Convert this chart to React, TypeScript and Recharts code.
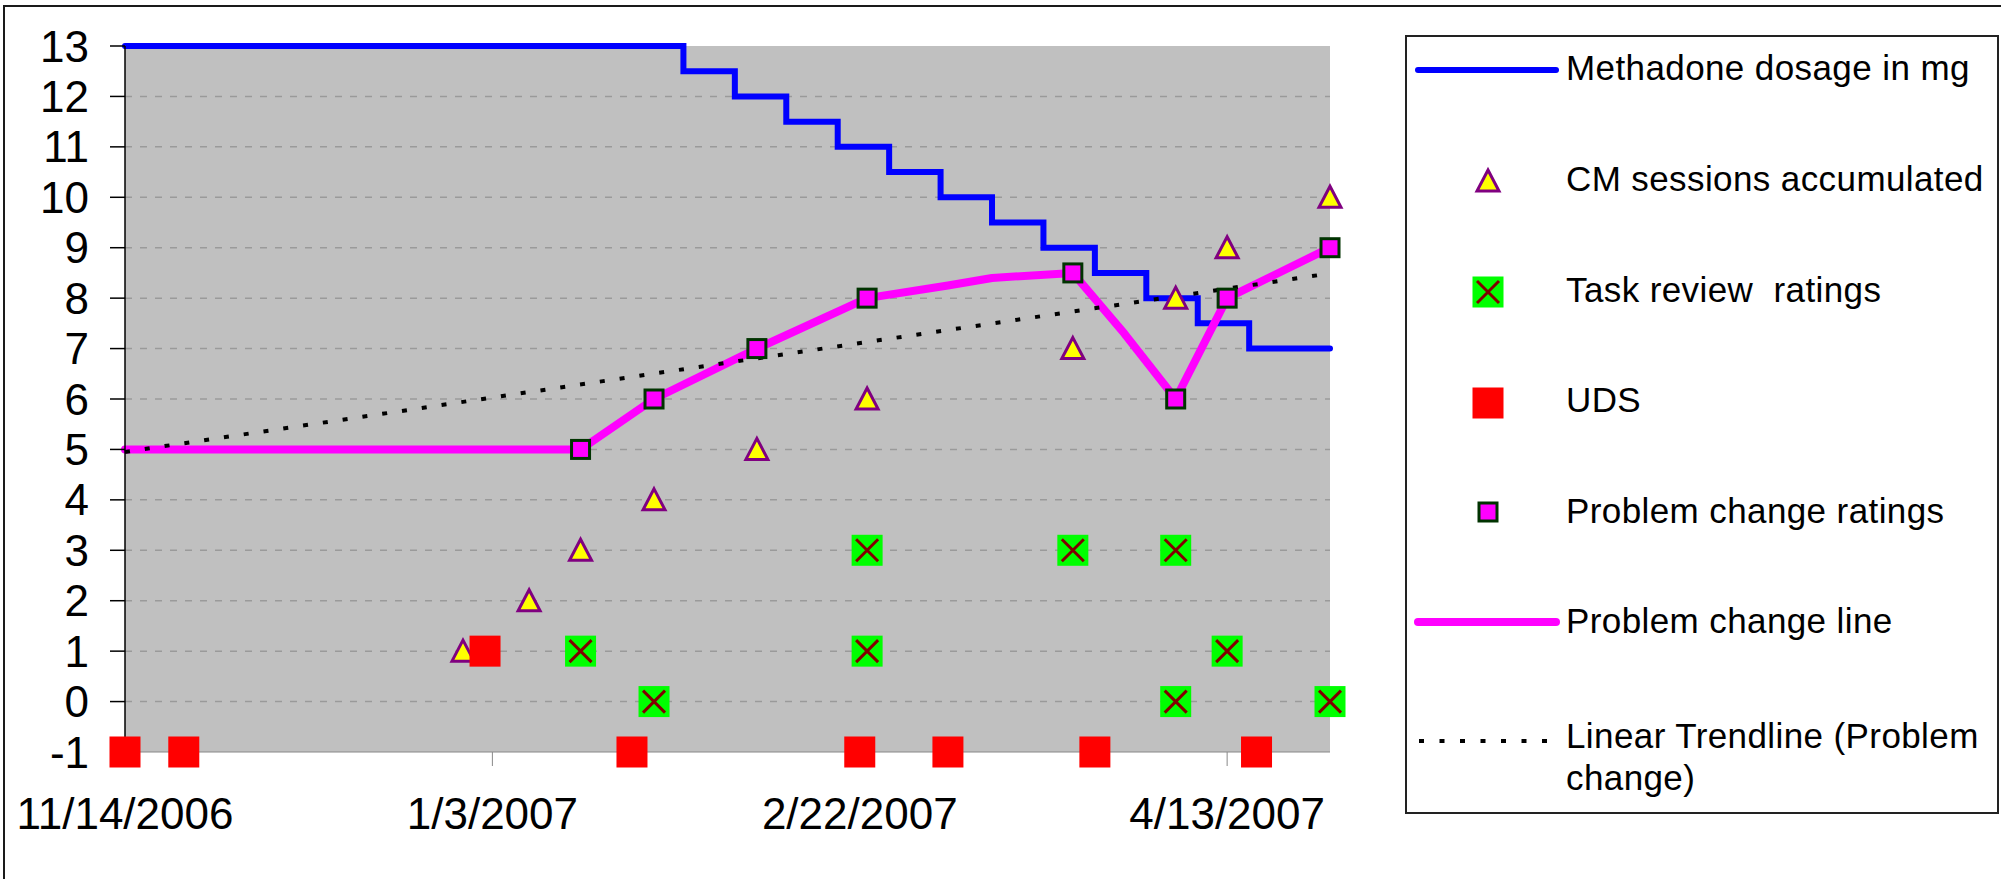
import React from 'react';
import { ComposedChart, Line, Scatter, XAxis, YAxis, CartesianGrid } from 'recharts';

// day 0 of the date axis
const START = Date.UTC(2006, 10, 14);

const toDay = (s: string) => {
  const [m, d, y] = s.split('/').map(Number);
  return Math.round((Date.UTC(y, m - 1, d) - START) / 86400000);
};
const fromDay = (n: number) => {
  const dt = new Date(START + n * 86400000);
  return `${dt.getUTCMonth() + 1}/${dt.getUTCDate()}/${dt.getUTCFullYear()}`;
};

const methadoneDates = ['11/14/2006', '1/29/2007', '2/5/2007', '2/12/2007', '2/19/2007', '2/26/2007', '3/5/2007', '3/12/2007', '3/19/2007', '3/26/2007', '4/2/2007', '4/9/2007', '4/16/2007', '4/27/2007'];
const methadoneMg = [13, 12.5, 12, 11.5, 11, 10.5, 10, 9.5, 9, 8.5, 8, 7.5, 7, 7];

const cmDates = ['12/30/2006', '1/8/2007', '1/15/2007', '1/25/2007', '2/8/2007', '2/23/2007', '3/23/2007', '4/6/2007', '4/13/2007', '4/27/2007'];
const cmSessions = [1, 2, 3, 4, 5, 6, 7, 8, 9, 10];

const taskDates = ['1/15/2007', '1/25/2007', '2/23/2007', '2/23/2007', '3/23/2007', '4/6/2007', '4/6/2007', '4/13/2007', '4/27/2007'];
const taskRatings = [1, 0, 3, 1, 3, 3, 0, 1, 0];

const udsDates = ['11/14/2006', '11/22/2006', '1/2/2007', '1/22/2007', '2/22/2007', '3/6/2007', '3/26/2007', '4/17/2007'];
const udsValues = [-1, -1, 1, -1, -1, -1, -1, -1];

const problemDates = ['1/15/2007', '1/25/2007', '2/8/2007', '2/23/2007', '3/23/2007', '4/6/2007', '4/13/2007', '4/27/2007'];
const problemRatings = [5, 6, 7, 8, 8.5, 6, 8, 9];

const problemLineDates = ['11/14/2006', '1/15/2007', '1/25/2007', '2/8/2007', '2/23/2007', '3/6/2007', '3/12/2007', '3/23/2007', '3/30/2007', '4/6/2007', '4/13/2007', '4/27/2007'];
const problemLineValues = [5, 5, 6, 7, 8, 8.25, 8.4, 8.5, 7.3, 6, 8, 9];

const trendDates = ['11/14/2006', '4/27/2007'];
const trendValues = [4.95, 8.49];

const xTickDates = ['11/14/2006', '1/3/2007', '2/22/2007', '4/13/2007'];
const yTicks = [-1, 0, 1, 2, 3, 4, 5, 6, 7, 8, 9, 10, 11, 12, 13];

const legendLabels = [
  'Methadone dosage in mg',
  'CM sessions accumulated',
  'Task review  ratings',
  'UDS',
  'Problem change ratings',
  'Problem change line',
  'Linear Trendline (Problem change)',
];

const toPoints = (dates: string[], values: number[]) =>
  dates.map((d, i) => ({ day: toDay(d), value: values[i] }));

const FONT = '"Liberation Sans", Arial, sans-serif';

const Triangle = ({ cx, cy }: any) => (
  <polygon
    points={`${cx},${cy - 11} ${cx + 11},${cy + 10} ${cx - 11},${cy + 10}`}
    fill="#FFFF00"
    stroke="#800080"
    strokeWidth={3}
    strokeLinejoin="miter"
  />
);

const CrossBox = ({ cx, cy }: any) => (
  <g>
    <rect x={cx - 15.5} y={cy - 15.5} width={31} height={31} fill="#00FF00" />
    <path d={`M${cx - 11},${cy - 11}L${cx + 11},${cy + 11}M${cx + 11},${cy - 11}L${cx - 11},${cy + 11}`} stroke="#800000" strokeWidth={3} />
  </g>
);

const RedBox = ({ cx, cy }: any) => (
  <rect x={cx - 15.5} y={cy - 15.5} width={31} height={31} fill="#FF0000" />
);

const PinkBox = ({ cx, cy }: any) => (
  <rect x={cx - 9} y={cy - 9} width={18} height={18} fill="#FF00FF" stroke="#003300" strokeWidth={3} />
);

const legendIcon = (i: number) => {
  switch (i) {
    case 0:
      return <line x1={12} y1={20} x2={150} y2={20} stroke="#0000FF" strokeWidth={6} strokeLinecap="round" />;
    case 1:
      return <Triangle cx={82} cy={20} />;
    case 2:
      return <CrossBox cx={82} cy={20} />;
    case 3:
      return <RedBox cx={82} cy={20} />;
    case 4:
      return <PinkBox cx={82} cy={20} />;
    case 5:
      return <line x1={12} y1={20} x2={150} y2={20} stroke="#FF00FF" strokeWidth={8} strokeLinecap="round" />;
    default:
      return <line x1={13} y1={20} x2={150} y2={20} stroke="#000" strokeWidth={4} strokeDasharray="5 15.5" />;
  }
};

const rowText = [68, 179, 290, 400, 511, 621, 736];
const rowIcon = [70, 181, 292, 403, 512, 622, 741];

export default function App() {
  return (
    <div style={{ position: 'absolute', left: 0, top: 0, width: 2001, height: 879, overflow: 'hidden', background: '#fff', fontFamily: FONT }}>
      <div style={{ position: 'absolute', left: 3, top: 5, width: 2100, height: 1000, border: '2px solid #1a1a1a' }} />
      <div style={{ position: 'absolute', left: 0, top: 0 }}>
        <ComposedChart width={2001} height={879} margin={{ top: 46, right: 671, bottom: 0, left: 0 }}>
          <CartesianGrid
            fill="#C0C0C0"
            vertical={false}
            horizontalValues={yTicks.slice(1, -1)}
            stroke="#9a9a9a"
            strokeWidth={1.5}
            strokeDasharray="7 8"
          />
          <XAxis
            dataKey="day"
            type="number"
            domain={[0, 164]}
            ticks={xTickDates.map(toDay)}
            tickFormatter={fromDay}
            interval={0}
            height={127}
            tickSize={14}
            tickMargin={32}
            stroke="#888"
            tick={{ fill: '#000', fontSize: 44, fontFamily: FONT }}
          />
          <YAxis
            dataKey="value"
            type="number"
            domain={[-1, 13]}
            ticks={yTicks}
            interval={0}
            width={125}
            tickSize={15}
            tickMargin={21}
            stroke="#000"
            strokeWidth={1.5}
            tick={{ fill: '#000', fontSize: 44, fontFamily: FONT }}
          />
          <Line
            data={toPoints(methadoneDates, methadoneMg)}
            dataKey="value"
            type="stepAfter"
            stroke="#0000FF"
            strokeWidth={6}
            strokeLinecap="round"
            dot={false}
            activeDot={false}
            isAnimationActive={false}
          />
          <Line
            data={toPoints(problemLineDates, problemLineValues)}
            dataKey="value"
            type="linear"
            stroke="#FF00FF"
            strokeWidth={8}
            strokeLinecap="round"
            strokeLinejoin="round"
            dot={false}
            activeDot={false}
            isAnimationActive={false}
          />
          <Scatter data={toPoints(cmDates, cmSessions)} dataKey="value" shape={Triangle} isAnimationActive={false} />
          <Scatter data={toPoints(taskDates, taskRatings)} dataKey="value" shape={CrossBox} isAnimationActive={false} />
          <Scatter data={toPoints(udsDates, udsValues)} dataKey="value" shape={RedBox} isAnimationActive={false} />
          <Scatter data={toPoints(problemDates, problemRatings)} dataKey="value" shape={PinkBox} isAnimationActive={false} />
          <Line
            data={toPoints(trendDates, trendValues)}
            dataKey="value"
            type="linear"
            stroke="#000"
            strokeWidth={4}
            strokeDasharray="5 15"
            dot={false}
            activeDot={false}
            isAnimationActive={false}
          />
        </ComposedChart>
      </div>
      <div style={{ position: 'absolute', left: 1405, top: 35, width: 594, height: 779, border: '2px solid #222', boxSizing: 'border-box' }} />
      {legendLabels.map((label, i) => (
        <React.Fragment key={label}>
          <svg style={{ position: 'absolute', left: 1406, top: rowIcon[i] - 20 }} width={160} height={40}>
            {legendIcon(i)}
          </svg>
          <div
            style={{
              position: 'absolute',
              left: 1566,
              top: rowText[i] - 20.6,
              width: 425,
              fontSize: 35,
              lineHeight: '42px',
              letterSpacing: 0.4,
              whiteSpace: 'pre-wrap',
              color: '#000',
            }}
          >
            {label}
          </div>
        </React.Fragment>
      ))}
    </div>
  );
}
